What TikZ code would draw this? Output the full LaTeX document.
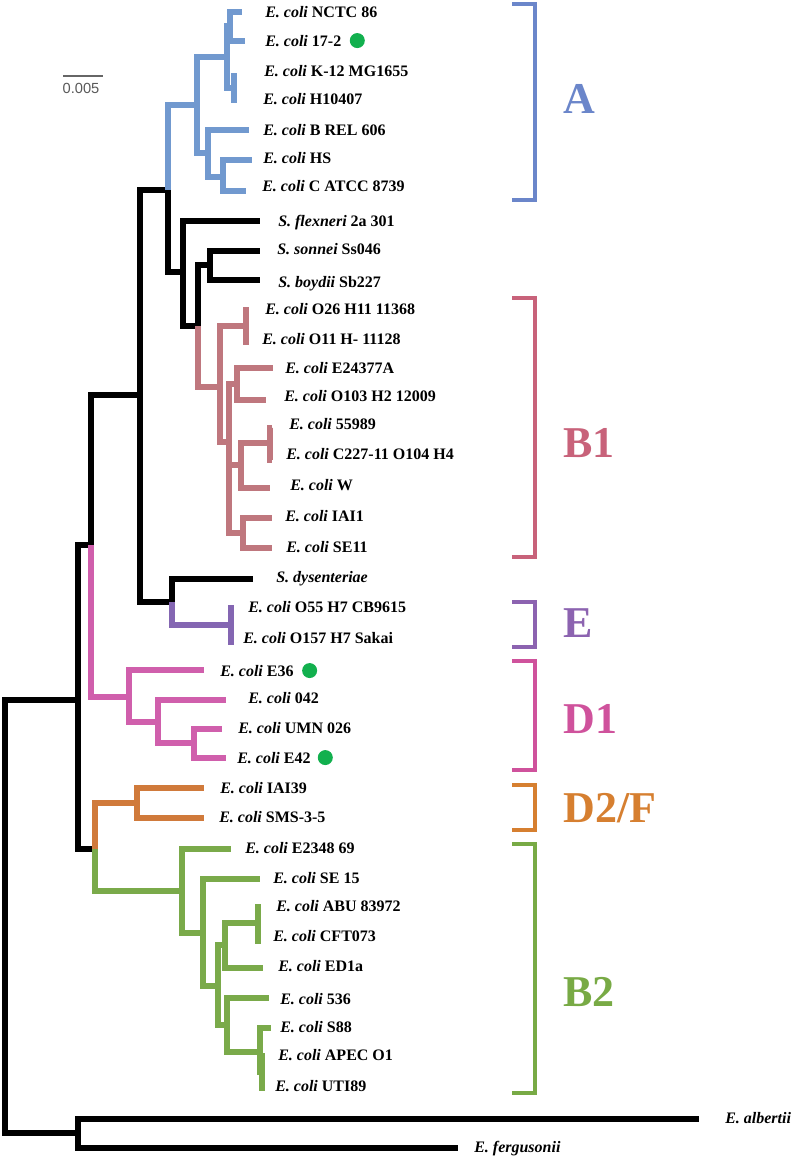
\documentclass[tikz,border=0pt]{standalone}
\usepackage{fontspec}
\setmainfont{Liberation Serif}
\setsansfont{Liberation Sans}
\usetikzlibrary{positioning}

\definecolor{cladeA}{HTML}{7199CF}
\definecolor{cladeB}{HTML}{BF777E}
\definecolor{cladeE}{HTML}{8466B2}
\definecolor{cladeD}{HTML}{D05FAC}
\definecolor{cladeF}{HTML}{D07A3B}
\definecolor{cladeG}{HTML}{7AAA4A}
\definecolor{brA}{HTML}{6B86CA}
\definecolor{brB}{HTML}{C8627A}
\definecolor{brE}{HTML}{8C63B0}
\definecolor{brD}{HTML}{CF529C}
\definecolor{brF}{HTML}{D67F30}
\definecolor{brG}{HTML}{78AA45}
\definecolor{dotgreen}{HTML}{12B04E}

\newcommand{\ecoli}[1]{\textit{E. coli} #1}

\begin{document}
\begin{tikzpicture}[
  x=0.75pt, y=-0.75pt,
  br/.style={line width=4.6pt},
  cl/.style={line width=4.1pt},
  bracket/.style={line width=3.2pt},
  leaf/.style={anchor=base west, inner sep=0pt, font=\fontsize{12}{14}\selectfont\bfseries},
  clade/.style={anchor=base west, inner sep=0pt, font=\fontsize{33}{36}\selectfont\bfseries},
  dot/.style={circle, fill=dotgreen, minimum size=11.25pt, inner sep=0pt}
]
\useasboundingbox (0,0) rectangle (800,1158);

% backbone nodes
\coordinate (root) at (5,916);
\coordinate (outg) at (78,1133);
\coordinate (ingr) at (78,700);
\coordinate (n90) at (91,545);
\coordinate (n95) at (95,849);
\coordinate (n140) at (140,395);
\coordinate (n168) at (168,190);
\coordinate (n172) at (172,602);
\coordinate (n183) at (183,272);
\coordinate (n198) at (198,326);
\coordinate (n210) at (210,265);
% clade A
\coordinate (a0) at (197,105);
\coordinate (a1) at (227,57);
\coordinate (a11) at (230,26);
\coordinate (a12) at (234,88);
\coordinate (a2) at (208,153);
\coordinate (a21) at (223,177);
% clade B1
\coordinate (b0) at (220,387);
\coordinate (b1) at (246,326);
\coordinate (b2) at (229,442);
\coordinate (b21) at (237,384);
\coordinate (b22) at (241,465);
\coordinate (b221) at (270,443);
\coordinate (b23) at (243,533);
% clades E, D1, D2/F
\coordinate (e0) at (231,625);
\coordinate (d0) at (129,697);
\coordinate (d1) at (158,722);
\coordinate (d2) at (194,743);
\coordinate (f0) at (137,803);
% clade B2
\coordinate (g0) at (182,891);
\coordinate (g1) at (203,933);
\coordinate (g2) at (218,986);
\coordinate (g3) at (225,945);
\coordinate (g31) at (258,923);
\coordinate (g4) at (227,1025);
\coordinate (g41) at (260,1052);
\coordinate (g42) at (262,1072);

% tips
\coordinate (tNCTC) at (242,12);
\coordinate (t172) at (245,41);
\coordinate (tK12) at (237,76);
\coordinate (tH104) at (237,100);
\coordinate (tBREL) at (249,130);
\coordinate (tHS) at (252,160);
\coordinate (tCATCC) at (246,191);
\coordinate (tflex) at (260,221);
\coordinate (tsonn) at (260,251);
\coordinate (tboyd) at (260,280);
\coordinate (tO26) at (249,310);
\coordinate (tO11) at (249,342);
\coordinate (tE243) at (273,368);
\coordinate (tO103) at (266,400);
\coordinate (t5598) at (272,428);
\coordinate (tC227) at (272,460);
\coordinate (tW) at (270,488);
\coordinate (tIAI1) at (272,518);
\coordinate (tSE11) at (272,548);
\coordinate (tdys) at (253,579);
\coordinate (tO55) at (234,608);
\coordinate (tO157) at (234,642);
\coordinate (tE36) at (204,670);
\coordinate (t042) at (226,700);
\coordinate (tUMN) at (222,729);
\coordinate (tE42) at (226,758);
\coordinate (tIAI39) at (204,788);
\coordinate (tSMS) at (204,818);
\coordinate (tE2348) at (231,849);
\coordinate (tSE15) at (260,879);
\coordinate (tABU) at (261,907);
\coordinate (tCFT) at (261,941);
\coordinate (tED1a) at (263,968);
\coordinate (t536) at (269,998);
\coordinate (tS88) at (271,1028);
\coordinate (tAPEC) at (265,1056);
\coordinate (tUTI) at (265,1088);
\coordinate (talb) at (699,1119);
\coordinate (tferg) at (458,1148);

% black branches
\draw[br] (root) |- (ingr) (root) |- (outg) (outg) |- (talb) (outg) |- (tferg);
\draw[br] (ingr) |- (n90) (ingr) |- (n95) (n90) |- (n140);
\draw[br] (n140) |- (n168) (n140) |- (n172) (n168) |- (n183);
\draw[br] (n183) |- (tflex) (n183) |- (n198) (n198) |- (n210);
\draw[br] (n210) |- (tsonn) (n210) |- (tboyd) (n172) |- (tdys);

% clade A
\draw[cl, cladeA] (n168) |- (a0) (a0) |- (a1) (a0) |- (a2);
\draw[cl, cladeA] (a1) |- (a11) (a1) |- (a12) (a11) |- (tNCTC) (a11) |- (t172);
\draw[cl, cladeA] (a12) |- (tK12) (a12) |- (tH104);
\draw[cl, cladeA] (a2) |- (tBREL) (a2) |- (a21) (a21) |- (tHS) (a21) |- (tCATCC);

% clade B1
\draw[cl, cladeB] (n198) |- (b0) (b0) |- (b1) (b0) |- (b2);
\draw[cl, cladeB] (b1) |- (tO26) (b1) |- (tO11);
\draw[cl, cladeB] (b2) |- (b21) (b2) |- (b22) (b2) |- (b23);
\draw[cl, cladeB] (b21) |- (tE243) (b21) |- (tO103);
\draw[cl, cladeB] (b22) |- (b221) (b22) |- (tW) (b221) |- (t5598) (b221) |- (tC227);
\draw[cl, cladeB] (b23) |- (tIAI1) (b23) |- (tSE11);

% clade E
\draw[cl, cladeE] (n172) |- (e0) (e0) |- (tO55) (e0) |- (tO157);

% clade D1
\draw[cl, cladeD] (n90) |- (d0) (d0) |- (tE36) (d0) |- (d1);
\draw[cl, cladeD] (d1) |- (t042) (d1) |- (d2) (d2) |- (tUMN) (d2) |- (tE42);

% clade D2/F
\draw[cl, cladeF] (n95) |- (f0) (f0) |- (tIAI39) (f0) |- (tSMS);

% clade B2
\draw[cl, cladeG] (n95) |- (g0) (g0) |- (tE2348) (g0) |- (g1);
\draw[cl, cladeG] (g1) |- (tSE15) (g1) |- (g2) (g2) |- (g3) (g2) |- (g4);
\draw[cl, cladeG] (g3) |- (g31) (g3) |- (tED1a) (g31) |- (tABU) (g31) |- (tCFT);
\draw[cl, cladeG] (g4) |- (t536) (g4) |- (g41) (g41) |- (tS88) (g41) |- (g42);
\draw[cl, cladeG] (g42) |- (tAPEC) (g42) |- (tUTI);

% leaf labels
\node[leaf] (lNCTC) at (265,17) {\ecoli{NCTC 86}};
\node[leaf] (l172) at (265,46) {\ecoli{17-2}};
\node[leaf] (lK12) at (264,76) {\ecoli{K-12 MG1655}};
\node[leaf] (lH104) at (263,104) {\ecoli{H10407}};
\node[leaf] (lBREL) at (263,135) {\ecoli{B REL 606}};
\node[leaf] (lHS) at (263,163) {\ecoli{HS}};
\node[leaf] (lCATCC) at (262,191) {\ecoli{C ATCC 8739}};
\node[leaf] (lflex) at (278,226) {\textit{S. flexneri} 2a 301};
\node[leaf] (lsonn) at (277,254) {\textit{S. sonnei} Ss046};
\node[leaf] (lboyd) at (278,287) {\textit{S. boydii} Sb227};
\node[leaf] (lO26) at (265,314) {\ecoli{O26 H11 11368}};
\node[leaf] (lO11) at (262,344) {\ecoli{O11 H- 11128}};
\node[leaf] (lE243) at (285,373) {\ecoli{E24377A}};
\node[leaf] (lO103) at (284,401) {\ecoli{O103 H2 12009}};
\node[leaf] (l5598) at (289,429) {\ecoli{55989}};
\node[leaf] (lC227) at (286,459) {\ecoli{C227-11 O104 H4}};
\node[leaf] (lW) at (290,490) {\ecoli{W}};
\node[leaf] (lIAI1) at (285,521) {\ecoli{IAI1}};
\node[leaf] (lSE11) at (286,552) {\ecoli{SE11}};
\node[leaf] (ldys) at (276,582) {\textit{S. dysenteriae}};
\node[leaf] (lO55) at (248,612) {\ecoli{O55 H7 CB9615}};
\node[leaf] (lO157) at (243,643) {\ecoli{O157 H7 Sakai}};
\node[leaf] (lE36) at (220,676) {\ecoli{E36}};
\node[leaf] (l042) at (248,703) {\ecoli{042}};
\node[leaf] (lUMN) at (238,733) {\ecoli{UMN 026}};
\node[leaf] (lE42) at (237,763) {\ecoli{E42}};
\node[leaf] (lIAI39) at (220,793) {\ecoli{IAI39}};
\node[leaf] (lSMS) at (219,822) {\ecoli{SMS-3-5}};
\node[leaf] (lE2348) at (245,853) {\ecoli{E2348 69}};
\node[leaf] (lSE15) at (273,883) {\ecoli{SE 15}};
\node[leaf] (lABU) at (276,911) {\ecoli{ABU 83972}};
\node[leaf] (lCFT) at (273,941) {\ecoli{CFT073}};
\node[leaf] (lED1a) at (278,971) {\ecoli{ED1a}};
\node[leaf] (l536) at (280,1004) {\ecoli{536}};
\node[leaf] (lS88) at (280,1032) {\ecoli{S88}};
\node[leaf] (lAPEC) at (278,1060) {\ecoli{APEC O1}};
\node[leaf] (lUTI) at (275,1091) {\ecoli{UTI89}};
\node[leaf] (lalb) at (725,1123) {\textit{E. albertii}};
\node[leaf] (lferg) at (474,1152) {\textit{E. fergusonii}};

% green marks
\node[dot, right=6pt of l172] (m172) {};
\node[dot, right=6pt of lE36] (mE36) {};
\node[dot, right=5pt of lE42] (mE42) {};

% scale bar
\coordinate (sbL) at (63,76);
\coordinate (sbR) at (103,76);
\draw[line width=1.1pt, black!60] (sbL) -- (sbR);
\node[font=\sffamily\fontsize{11}{12}\selectfont, text=black!65, inner sep=0pt] (sbtxt) at (81,88) {0.005};

% clade brackets
\draw[bracket, brA] (512,4) -| (535,200) -- (512,200);
\draw[bracket, brB] (512,298) -| (535,557) -- (512,557);
\draw[bracket, brE] (512,602) -| (535,647) -- (512,647);
\draw[bracket, brD] (512,661) -| (535,770) -- (512,770);
\draw[bracket, brF] (512,785) -| (535,830) -- (512,830);
\draw[bracket, brG] (512,844) -| (535,1093) -- (512,1093);

\node[clade, text=brA] (cA) at (563,113) {A};
\node[clade, text=brB] (cB1) at (563,457) {B1};
\node[clade, text=brE] (cE) at (563,637) {E};
\node[clade, text=brD] (cD1) at (563,733) {D1};
\node[clade, text=brF] (cD2) at (563,822) {D2/F};
\node[clade, text=brG] (cB2) at (563,1006) {B2};
\end{tikzpicture}
\end{document}
